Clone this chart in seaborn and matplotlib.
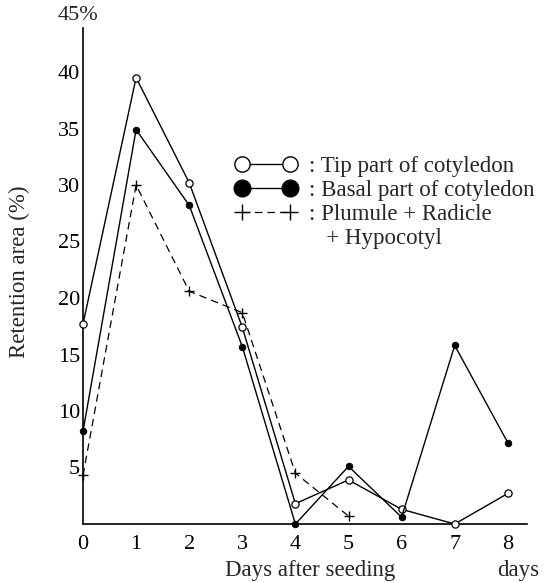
import matplotlib
matplotlib.use("Agg")
import matplotlib.pyplot as plt
from matplotlib.lines import Line2D
from matplotlib.legend_handler import HandlerLine2D
import seaborn as sns
import pandas as pd

days = [0, 1, 2, 3, 4, 5, 6, 7, 8]
tip = [17.7, 39.5, 30.2, 17.4, 1.8, 3.9, 1.3, 0.0, 2.7]
basal = [8.2, 34.9, 28.2, 15.7, 0.0, 5.1, 0.6, 15.8, 7.2]
plus_days = [0, 1, 2, 3, 4, 5]
plumule = [4.3, 30.0, 20.6, 18.7, 4.5, 0.7]

ytick_vals = [5, 10, 15, 20, 25, 30, 35, 40]
xtick_vals = [0, 1, 2, 3, 4, 5, 6, 7, 8]
legend_labels = [": Tip part of cotyledon", ": Basal part of cotyledon",
                 ": Plumule + Radicle", "   + Hypocotyl"]

sns.set_style("ticks")
plt.rcParams["font.family"] = ["Liberation Serif", "DejaVu Serif"]
plt.rcParams["lines.dashed_pattern"] = [6, 4]

fig = plt.figure(figsize=(5.51, 5.83), dpi=100)
W, H = 551, 583
x0, x1, ytop, ybot = 83, 527, 28, 524
ax = fig.add_axes([x0 / W, 1 - ybot / H, (x1 - x0) / W, (ybot - ytop) / H])

df_tip = pd.DataFrame({"day": days, "val": tip})
df_basal = pd.DataFrame({"day": days, "val": basal})
df_plus = pd.DataFrame({"day": plus_days, "val": plumule})

sns.lineplot(data=df_tip, x="day", y="val", ax=ax, color="black", lw=1.0,
             marker="o", markersize=5.2, markerfacecolor="white",
             markeredgecolor="black", markeredgewidth=0.9, clip_on=False, zorder=3)
sns.lineplot(data=df_basal, x="day", y="val", ax=ax, color="black", lw=1.0,
             marker="o", markersize=4.6, markerfacecolor="black",
             markeredgecolor="black", clip_on=False, zorder=3)
sns.lineplot(data=df_plus, x="day", y="val", ax=ax, color="black", lw=0.9,
             linestyle="--", marker="+", markersize=7, markeredgewidth=1.0,
             markeredgecolor="black", clip_on=False, zorder=3)

ax.set_xlim(0, (x1 - x0) / 53.1)
ax.set_ylim(0, (ybot - ytop) / 11.3)
ax.set_xticks(xtick_vals)
ax.set_yticks(ytick_vals)
ax.tick_params(axis="both", length=0, labelsize=16, colors="black")
ax.tick_params(axis="y", pad=2.2)
ax.tick_params(axis="x", pad=7.8)
sns.despine(ax=ax)
for s in ["left", "bottom"]:
    ax.spines[s].set_linewidth(1.2)
    ax.spines[s].set_color("black")

ax.set_xlabel("Days after seeding", fontsize=16.5)
ax.xaxis.set_label_coords((310 - x0) / (x1 - x0), -0.072)
ax.set_ylabel("Retention area (%)", fontsize=16.5)
ax.yaxis.set_label_coords(-0.12, 0.508)

ax.text((518 - x0) / 53.1, -0.072, "days", transform=ax.get_xaxis_transform(),
        ha="center", va="top", fontsize=16.5)
ax.annotate("45%", xy=(0, 45), xytext=(-18, 0), textcoords="offset points",
            ha="left", va="center", fontsize=16, annotation_clip=False)

handles = [
    Line2D([0], [0], color="black", lw=1.0, marker="o", markersize=11,
           markerfacecolor="white", markeredgecolor="black", markeredgewidth=1.0),
    Line2D([0], [0], color="black", lw=1.0, marker="o", markersize=12,
           markerfacecolor="black", markeredgecolor="black"),
    Line2D([0], [0], color="black", lw=0.9, linestyle="--", marker="+",
           markersize=12, markeredgewidth=1.0),
    Line2D([0], [0], linestyle="none", marker=None),
]
leg = ax.legend(handles, legend_labels, numpoints=2, frameon=False,
                fontsize=16.5, handlelength=2.1, handletextpad=0.85,
                labelspacing=0.13, borderpad=0, borderaxespad=0,
                loc="upper left", bbox_to_anchor=(241.5 / W, 1 - 156 / H),
                bbox_transform=fig.transFigure,
                handler_map={Line2D: HandlerLine2D(marker_pad=0)})

fig.savefig("out.png", dpi=100)
